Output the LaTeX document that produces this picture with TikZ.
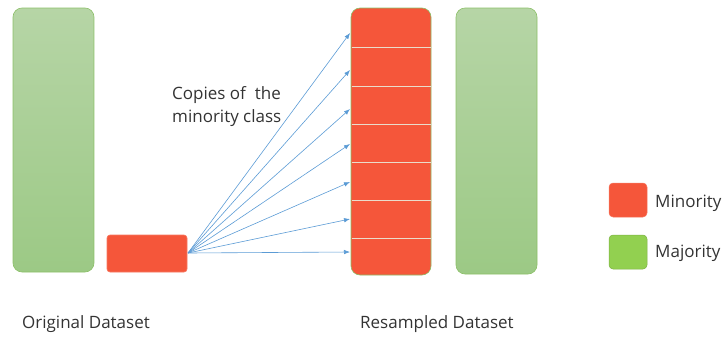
\documentclass[tikz,border=0pt]{standalone}
\usepackage{fontspec}
\setmainfont{Open Sans}
\usetikzlibrary{arrows.meta}
\definecolor{minred}{HTML}{F5563A}
\definecolor{gtop}{HTML}{B6D5A6}
\definecolor{gbot}{HTML}{9CC985}
\definecolor{gborder}{HTML}{8CC068}
\definecolor{leggreen}{HTML}{92D050}
\definecolor{arrblue}{HTML}{5B9BD5}
\definecolor{divline}{HTML}{EADCCB}
\definecolor{txt}{HTML}{333333}
\tikzset{
  majbar/.style={draw=gborder, line width=0.6pt, top color=gtop, bottom color=gbot, rounded corners=9pt},
  minbox/.style={draw=minred!80!white, fill=minred, line width=0.6pt, rounded corners=3pt},
  copyarrow/.style={draw=arrblue, line width=0.6pt, -{Latex[length=6pt,width=4.5pt]}},
  lbl/.style={text=txt, font=\fontsize{17}{21}\selectfont, inner sep=0pt, anchor=base west},
  legbox/.style={rounded corners=4pt, line width=0.5pt}
}
\begin{document}
\begin{tikzpicture}[x=1pt,y=-1pt]
\useasboundingbox (0,0) rectangle (725,338);
% left majority bar
\path[majbar] (13,8) rectangle (94,272);
\node[inner sep=0pt] (origmaj) at (53.5,140) {};
% small minority box
\path[minbox] (107,235) rectangle (187,272);
\node[inner sep=0pt] (src) at (188,253) {};
% stacked resampled minority bar
\path[draw=gborder, fill=minred, line width=0.6pt, rounded corners=9pt] (351,8) rectangle (431,275);
\foreach \yy in {47.7,86.3,124.3,162.7,200.3,238.3}
  \draw[divline, line width=0.8pt] (351.5,\yy) -- (430.5,\yy);
% arrow targets
\coordinate (t1) at (350,33);
\coordinate (t2) at (350,70);
\coordinate (t3) at (350,109);
\coordinate (t4) at (350,144);
\coordinate (t5) at (350,182);
\coordinate (t6) at (350,219);
\coordinate (t7) at (350,252);
\foreach \t in {t1,t2,t3,t4,t5,t6,t7}
  \draw[copyarrow] (src.center) -- (\t);
% right majority bar
\path[majbar] (456,8) rectangle (537,274);
% labels
\node[lbl] (copies1) at (172,99) {Copies of\ \ the};
\node[lbl] (copies2) at (172,122) {minority class};
\node[lbl] (orig) at (22,328) {Original Dataset};
\node[lbl] (resam) at (360,328) {Resampled Dataset};
% legend
\path[legbox, fill=minred, draw=minred!80!white] (609,183) rectangle (647,217);
\path[legbox, fill=leggreen, draw=leggreen!85!black] (609,235) rectangle (647,269);
\node[lbl] (lmin) at (655,207) {Minority};
\node[lbl] (lmaj) at (655,257) {Majority};
\end{tikzpicture}
\end{document}
